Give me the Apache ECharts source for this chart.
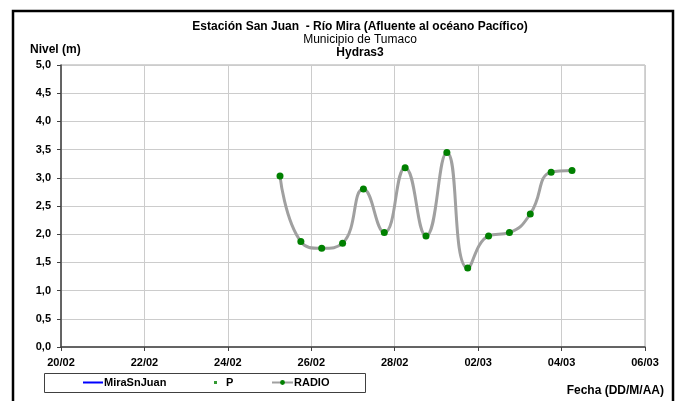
<!DOCTYPE html>
<html>
<head>
<meta charset="utf-8">
<script src="https://cdn.jsdelivr.net/npm/echarts@6/dist/echarts.min.js"></script>
<style>html,body{margin:0;padding:0;background:#fff;}#c{width:681px;height:401px;}</style>
</head>
<body>
<div id="c"></div>
<script>
// Data
const startDate = '2023-02-20T00:00:00Z';
const radioTimes = [
  '2023-02-25T06:00:00Z','2023-02-25T18:00:00Z','2023-02-26T06:00:00Z','2023-02-26T18:00:00Z',
  '2023-02-27T06:00:00Z','2023-02-27T18:00:00Z','2023-02-28T06:00:00Z','2023-02-28T18:00:00Z',
  '2023-03-01T06:00:00Z','2023-03-01T18:00:00Z','2023-03-02T06:00:00Z','2023-03-02T18:00:00Z',
  '2023-03-03T06:00:00Z','2023-03-03T18:00:00Z','2023-03-04T06:00:00Z'
];
const radioValues = [3.03, 1.87, 1.75, 1.84, 2.80, 2.03, 3.18, 1.97, 3.45, 1.40, 1.97, 2.03, 2.36, 3.10, 3.13];
const miraValues = [];
const pValues = [];
const xTickLabels = ['20/02','22/02','24/02','26/02','28/02','02/03','04/03','06/03'];

const t0 = Date.parse(startDate);
const toDay = s => (Date.parse(s) - t0) / 86400000;
const radioData = radioTimes.map((t, i) => [toDay(t), radioValues[i]]);

const FONT = 'Liberation Sans, Arial, sans-serif';
const chart = echarts.init(document.getElementById('c'), null, {renderer: 'canvas'});
chart.setOption({
  animation: false,
  backgroundColor: '#fff',
  grid: {left: 61, right: 36, top: 65, bottom: 54, show: true, borderColor: '#a8a8a8', borderWidth: 1, backgroundColor: 'transparent'},
  title: [
    {text: 'Estación San Juan  - Río Mira (Afluente al océano Pacífico)', left: 355, top: 16, textAlign: 'center',
     textStyle: {fontFamily: FONT, fontSize: 12, fontWeight: 'bold', color: '#000'}},
    {text: 'Municipio de Tumaco', left: 355, top: 29, textAlign: 'center',
     textStyle: {fontFamily: FONT, fontSize: 12, fontWeight: 'normal', color: '#000'}},
    {text: 'Hydras3', left: 355, top: 42, textAlign: 'center',
     textStyle: {fontFamily: FONT, fontSize: 12, fontWeight: 'bold', color: '#000'}},
    {text: 'Nivel (m)', left: 25, top: 39,
     textStyle: {fontFamily: FONT, fontSize: 12, fontWeight: 'bold', color: '#000'}},
    {text: 'Fecha (DD/M/AA)', right: 12, top: 380,
     textStyle: {fontFamily: FONT, fontSize: 12, fontWeight: 'bold', color: '#000'}}
  ],
  xAxis: {
    type: 'value', min: 0, max: 14, interval: 2,
    axisLine: {show: true, lineStyle: {color: '#404040', width: 1.5}},
    axisTick: {show: true, length: 4, lineStyle: {color: '#404040'}},
    axisLabel: {fontFamily: FONT, fontSize: 11, fontWeight: 'bold', color: '#000', margin: 10,
      formatter: v => xTickLabels[Math.round(v / 2)]},
    splitLine: {show: true, lineStyle: {color: '#cccccc', width: 1}}
  },
  yAxis: {
    type: 'value', min: 0, max: 5, interval: 0.5,
    axisLine: {show: true, lineStyle: {color: '#404040', width: 1.5}},
    axisTick: {show: true, length: 4, lineStyle: {color: '#404040'}},
    axisLabel: {fontFamily: FONT, fontSize: 11, fontWeight: 'bold', color: '#000', margin: 10,
      formatter: v => v.toFixed(1).replace('.', ',')},
    splitLine: {show: true, lineStyle: {color: '#cccccc', width: 1}}
  },
  legend: [
    {data: [{name: 'MiraSnJuan', icon: 'rect'}], left: 83, top: 377, itemWidth: 20, itemHeight: 2, itemGap: 0, padding: 0,
     textStyle: {fontFamily: FONT, fontSize: 11, fontWeight: 'bold', color: '#000', padding: [0,0,0,-4]}},
    {data: [{name: 'P', icon: 'rect'}], left: 214, top: 377, itemWidth: 3, itemHeight: 3, itemGap: 0, padding: 0,
     textStyle: {fontFamily: FONT, fontSize: 11, fontWeight: 'bold', color: '#000', padding: [0,0,0,4]}},
    {data: [{name: 'RADIO'}], left: 271, top: 377, itemWidth: 21, itemHeight: 6, itemGap: 0, padding: 0,
     textStyle: {fontFamily: FONT, fontSize: 11, fontWeight: 'bold', color: '#000', padding: [0,0,0,-4]}}
  ],
  graphic: [
    {type: 'rect', shape: {x: 13, y: 11, width: 660, height: 420}, style: {fill: 'none', stroke: '#000', lineWidth: 2.5}, silent: true},
    {type: 'rect', shape: {x: 44.5, y: 373.5, width: 321, height: 19}, style: {fill: 'none', stroke: '#404040', lineWidth: 1}, silent: true}
  ],
  series: [
    {name: 'MiraSnJuan', type: 'line', data: miraValues, symbol: 'none',
     lineStyle: {color: '#0000ff', width: 2}, itemStyle: {color: '#0000ff'}},
    {name: 'P', type: 'scatter', data: pValues, symbol: 'rect', symbolSize: 3,
     itemStyle: {color: '#008000'}},
    {name: 'RADIO', type: 'line', data: radioData, smooth: 0.5, symbol: 'circle', symbolSize: 7,
     lineStyle: {color: '#a0a0a0', width: 3}, itemStyle: {color: '#008000'}, z: 3}
  ]
});
</script>
</body>
</html>
